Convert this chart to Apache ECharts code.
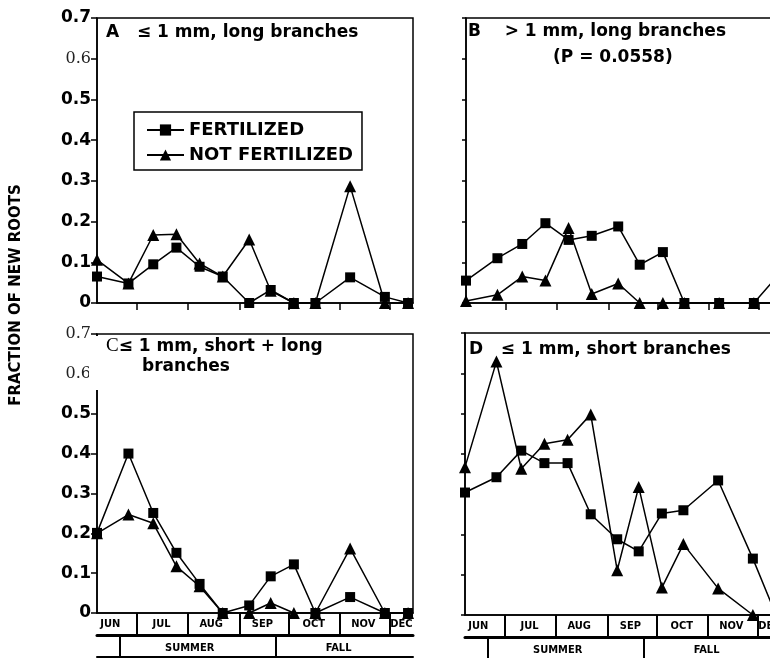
<!DOCTYPE html>
<html><head><meta charset="utf-8">
<script src="https://cdn.jsdelivr.net/npm/echarts@6/dist/echarts.min.js"></script>
<style>html,body{margin:0;padding:0;background:#fff;overflow:hidden;width:770px;height:658px}#c{width:790px;height:658px}</style>
</head><body><div id="c"></div>
<script>
// x values: days after 1 June
const sampleDays = [6, 25, 40, 54, 68, 82, 98, 111, 125, 138, 159, 180, 194];
const monthBoundaries = [30, 61, 92, 122, 153, 183];
const monthNames = ['JUN', 'JUL', 'AUG', 'SEP', 'OCT', 'NOV', 'DEC'];
const monthLabelDays = [14, 45, 75, 106, 137, 167, 190];
const seasonBoundaries = [20, 114];
const seasonNames = ['SUMMER', 'FALL'];
const seasonLabelDays = [62, 152];
const yTickLabels = ['0', '0.1', '0.2', '0.3', '0.4', '0.5', '0.6', '0.7'];

const A_fert = [0.065, 0.048, 0.095, 0.136, 0.089, 0.065, 0, 0.032, 0, 0, 0.063, 0.015, 0];
const A_not  = [0.106, 0.048, 0.167, 0.169, 0.097, 0.065, 0.156, 0.030, 0, 0, 0.287, 0, 0];
const B_fert = [0.055, 0.110, 0.145, 0.196, 0.155, 0.165, 0.188, 0.094, 0.125, 0, 0, 0, 0.065];
const B_not  = [0.005, 0.020, 0.065, 0.055, 0.184, 0.022, 0.048, 0, 0, 0, 0, 0, 0];
const C_fert = [0.201, 0.400, 0.251, 0.151, 0.073, 0, 0.019, 0.092, 0.122, 0, 0.040, 0, 0];
const C_not  = [0.200, 0.247, 0.225, 0.117, 0.067, 0, 0, 0.025, 0, 0, 0.162, 0, 0];
const D_fert = [0.304, 0.342, 0.408, 0.377, 0.377, 0.250, 0.188, 0.158, 0.252, 0.260, 0.334, 0.140, 0];
const D_not  = [0.367, 0.629, 0.363, 0.425, 0.435, 0.498, 0.111, 0.318, 0.068, 0.176, 0.066, 0, 0];

const SANS = 'DejaVu Sans';
const NARROW = "'Liberation Sans Narrow', 'DejaVu Sans Condensed', sans-serif";
const pair = vals => vals.map((v, i) => [sampleDays[i], v]);

const grids = [
  {left: 97, top: 18, width: 316, height: 285},
  {left: 466, top: 18, width: 316, height: 285},
  {left: 97, top: 334, width: 316, height: 279},
  {left: 465, top: 333, width: 316, height: 282}
].map(g => Object.assign(g, {show: true, borderColor: '#000', borderWidth: 1.5, containLabel: false}));

function monthAxis(gi, withLabels) {
  return {
    type: 'value', gridIndex: gi, min: 6, max: 197, position: 'bottom',
    axisLine: {show: true, lineStyle: {color: '#000', width: 1.5}},
    axisTick: {show: true, inside: false, length: withLabels ? 22 : 7, customValues: monthBoundaries,
      lineStyle: {color: '#000', width: withLabels ? 2 : 1.5}},
    axisLabel: withLabels ? {
      show: true, customValues: monthLabelDays, margin: 6,
      fontFamily: NARROW, fontWeight: 'bold', fontSize: 11, color: '#000',
      formatter: v => monthNames[monthLabelDays.indexOf(v)]
    } : {show: false},
    splitLine: {show: false}
  };
}
function seasonAxis(gi) {
  return {
    type: 'value', gridIndex: gi, min: 6, max: 197, position: 'bottom', offset: 22,
    axisLine: {show: true, lineStyle: {color: '#000', width: 3}},
    axisTick: {show: true, inside: false, length: 22, customValues: seasonBoundaries, lineStyle: {color: '#000', width: 2}},
    axisLabel: {show: true, customValues: seasonLabelDays, margin: 8,
      fontFamily: NARROW, fontWeight: 'bold', fontSize: 11, color: '#000',
      formatter: v => seasonNames[seasonLabelDays.indexOf(v)]},
    splitLine: {show: false}
  };
}
function baseLineAxis(gi) {
  return {
    type: 'value', gridIndex: gi, min: 6, max: 197, position: 'bottom', offset: 44,
    axisLine: {show: true, lineStyle: {color: '#000', width: 2}},
    axisTick: {show: false}, axisLabel: {show: false}, splitLine: {show: false}
  };
}
function yAxis(gi, labels, serifLabels) {
  return {
    type: 'value', gridIndex: gi, min: 0, max: 0.7, interval: 0.1,
    axisLine: {show: true, lineStyle: {color: '#000', width: 1.5}},
    axisTick: {show: true, inside: false, length: labels ? 6 : 4, lineStyle: {color: '#000', width: 1.5}},
    axisLabel: labels ? {
      show: true, margin: 6,
      formatter: v => {
        const t = yTickLabels[Math.round(v * 10)];
        return serifLabels.indexOf(t) >= 0 ? '{s|' + t + '}' : '{b|' + t + '}';
      },
      rich: {
        b: {fontFamily: SANS, fontWeight: 'bold', fontSize: 17, color: '#000'},
        s: {fontFamily: 'DejaVu Serif', fontWeight: 'normal', fontSize: 16, color: '#222'}
      }
    } : {show: false},
    splitLine: {show: false}
  };
}

const titleStyle = {fontFamily: SANS, fontWeight: 'bold', fontSize: 17, color: '#000'};

function seriesPair(xi, yi, fert, notf) {
  return [
    {name: 'NOT FERTILIZED', type: 'line', xAxisIndex: xi, yAxisIndex: yi, data: pair(notf),
     symbol: 'triangle', symbolSize: 12, itemStyle: {color: '#000'}, lineStyle: {color: '#000', width: 1.5}, z: 3},
    {name: 'FERTILIZED', type: 'line', xAxisIndex: xi, yAxisIndex: yi, data: pair(fert),
     symbol: 'rect', symbolSize: 10, itemStyle: {color: '#000'}, lineStyle: {color: '#000', width: 1.5}, z: 4}
  ];
}

const option = {
  animation: false,
  backgroundColor: '#fff',
  grid: grids,
  xAxis: [monthAxis(0, false), monthAxis(1, false), monthAxis(2, true), monthAxis(3, true),
          seasonAxis(2), seasonAxis(3), baseLineAxis(2), baseLineAxis(3)],
  yAxis: [yAxis(0, true, ['0.6']), yAxis(1, false, []), yAxis(2, true, ['0.7', '0.6']), yAxis(3, false, [])],
  title: [
    {text: 'A   ≤ 1 mm, long branches', left: 106, top: 24, padding: 0, textStyle: titleStyle},
    {text: 'B    > 1 mm, long branches', left: 468, top: 23, padding: 0, textStyle: titleStyle},
    {text: '(P = 0.0558)', left: 553, top: 49, padding: 0, textStyle: titleStyle},
    {text: '{s|C}≤ 1 mm, short + long', left: 106, top: 337, padding: 0,
     textStyle: Object.assign({}, titleStyle, {rich: {s: {fontFamily: 'Liberation Serif', fontSize: 19, fontWeight: 'normal', color: '#000'}}})},
    {text: 'branches', left: 142, top: 358, padding: 0, textStyle: titleStyle},
    {text: 'D   ≤ 1 mm, short branches', left: 469, top: 341, padding: 0, textStyle: titleStyle}
  ],
  legend: {
    show: true, orient: 'vertical', left: 134, top: 112,
    data: ['FERTILIZED', 'NOT FERTILIZED'],
    padding: [8, 9, 5, 12], itemGap: 5, itemWidth: 37, itemHeight: 14,
    borderColor: '#000', borderWidth: 1.5, backgroundColor: '#fff',
    textStyle: {fontFamily: SANS, fontWeight: 'bold', fontSize: 18, color: '#000', lineHeight: 20}
  },
  graphic: [
    {type: 'rect', shape: {x: 89, y: 336, width: 11, height: 54}, style: {fill: '#fff'}, z: 100},
    {type: 'text', x: 16, y: 295, rotation: Math.PI / 2, z: 100,
     style: {text: 'FRACTION OF NEW ROOTS', fill: '#000', font: 'bold 15px "DejaVu Sans"', align: 'center', verticalAlign: 'middle'}}
  ],
  series: [].concat(
    seriesPair(0, 0, A_fert, A_not),
    seriesPair(1, 1, B_fert, B_not),
    seriesPair(2, 2, C_fert, C_not),
    seriesPair(3, 3, D_fert, D_not)
  )
};

const chart = echarts.init(document.getElementById('c'), null, {renderer: 'canvas'});
chart.setOption(option);
</script>
</body></html>
